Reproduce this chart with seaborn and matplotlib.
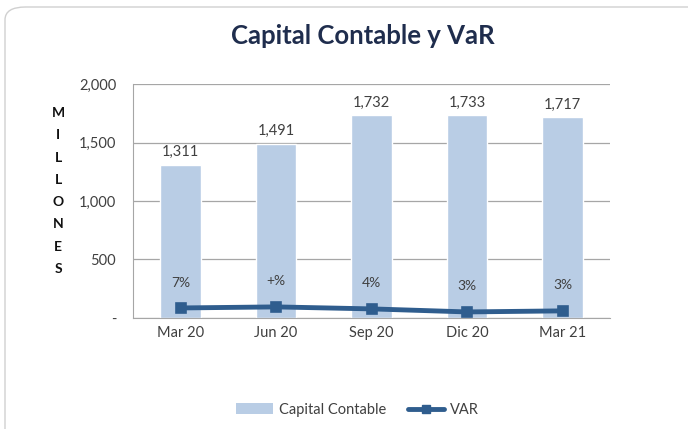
"""
Capital Contable y VaR - bar + line combo chart (millones).
"""

import matplotlib
matplotlib.use("Agg")
import matplotlib.pyplot as plt
from matplotlib.patches import FancyBboxPatch, Patch
from matplotlib.lines import Line2D
import seaborn as sns
import pandas as pd

# ---------------------------------------------------------------
# Data
# ---------------------------------------------------------------
periodos = ["Mar 20", "Jun 20", "Sep 20", "Dic 20", "Mar 21"]
capital = [1311, 1491, 1732, 1733, 1717]
var = [85, 94, 77, 51, 60]
var_labels = ["7%", "+%", "4%", "3%", "3%"]
yticks = [0, 500, 1000, 1500, 2000]
ytick_labels = ["-", "500", "1,000", "1,500", "2,000"]

BAR_COLOR = "#B9CDE5"
LINE_COLOR = "#2F5D8E"
TEXT_COLOR = "#404040"

df = pd.DataFrame({"periodo": periodos, "capital": capital, "var": var})

sns.set_style("white")
plt.rcParams["font.family"] = ["Lato", "DejaVu Sans"]

fig = plt.figure(figsize=(6.88, 4.29), dpi=100)
ax = fig.add_axes([0.193, 0.259, 0.694, 0.545])

# rounded frame around the chart
frame = FancyBboxPatch((5 / 688, -0.2), 1.2, 1.2 - 7 / 429,
                       boxstyle="round,pad=0,rounding_size=0.03",
                       transform=fig.transFigure, facecolor="none",
                       edgecolor="#D0D0D0", linewidth=1.0, zorder=0)
fig.patches.append(frame)

# ---------------------------------------------------------------
# Bars and line
# ---------------------------------------------------------------
sns.barplot(data=df, x="periodo", y="capital", color=BAR_COLOR,
            width=0.42, saturation=1, ax=ax, zorder=2)
ax.bar_label(ax.containers[0], labels=[f"{v:,}" for v in capital],
             padding=4, fontsize=10.5, color=TEXT_COLOR)

sns.pointplot(data=df, x="periodo", y="var", color=LINE_COLOR,
              markers="s", markersize=6, linewidth=3.5, ax=ax, zorder=3)
for i, (v, lab) in enumerate(zip(var, var_labels)):
    ax.annotate(lab, (i, v), xytext=(0, 14), textcoords="offset points",
                ha="center", va="bottom", fontsize=10, color=TEXT_COLOR)

# ---------------------------------------------------------------
# Axes styling
# ---------------------------------------------------------------
ax.set_ylim(0, 2000)
ax.set_xlim(-0.5, len(periodos) - 0.5)
ax.set_yticks(yticks)
ax.set_yticklabels(ytick_labels)
ax.set_xlabel("")
ax.set_ylabel("")
ax.yaxis.grid(True, color="#A6A6A6", linewidth=0.9, zorder=0)
ax.set_axisbelow(True)
for side in ["top", "right"]:
    ax.spines[side].set_visible(False)
ax.spines["left"].set_color("#A6A6A6")
ax.spines["bottom"].set_color("#A6A6A6")
ax.set_xticks([i - 0.5 for i in range(len(periodos) + 1)], minor=True)
ax.tick_params(axis="x", which="major", length=0, labelsize=10.5,
               labelcolor=TEXT_COLOR, pad=6)
ax.tick_params(axis="x", which="minor", length=5, color="#A6A6A6",
               direction="out")
ax.tick_params(axis="y", length=0, labelsize=10.5, labelcolor=TEXT_COLOR, pad=12)

fig.suptitle("Capital Contable y VaR", x=0.527, y=0.945, fontsize=18.5,
             fontweight="bold", color="#1F2D4D")

# vertical "MILLONES" label
for k, ch in enumerate("MILLONES"):
    fig.text(58 / 688, 1 - (113 + k * 22.3) / 429, ch, ha="center",
             va="center", fontsize=10, fontweight="bold", color="#111111")

handles = [Patch(facecolor=BAR_COLOR, edgecolor="none"),
           Line2D([0], [0], color=LINE_COLOR, linewidth=3.5, marker="s",
                  markersize=6)]
fig.legend(handles, ["Capital Contable", "VAR"], loc="center",
           bbox_to_anchor=(0.52, 0.045), ncol=2, frameon=False, fontsize=10.5,
           handlelength=2.5, columnspacing=1.5, handletextpad=0.4,
           labelcolor=TEXT_COLOR)

fig.savefig("out.png", dpi=100, facecolor="white")
